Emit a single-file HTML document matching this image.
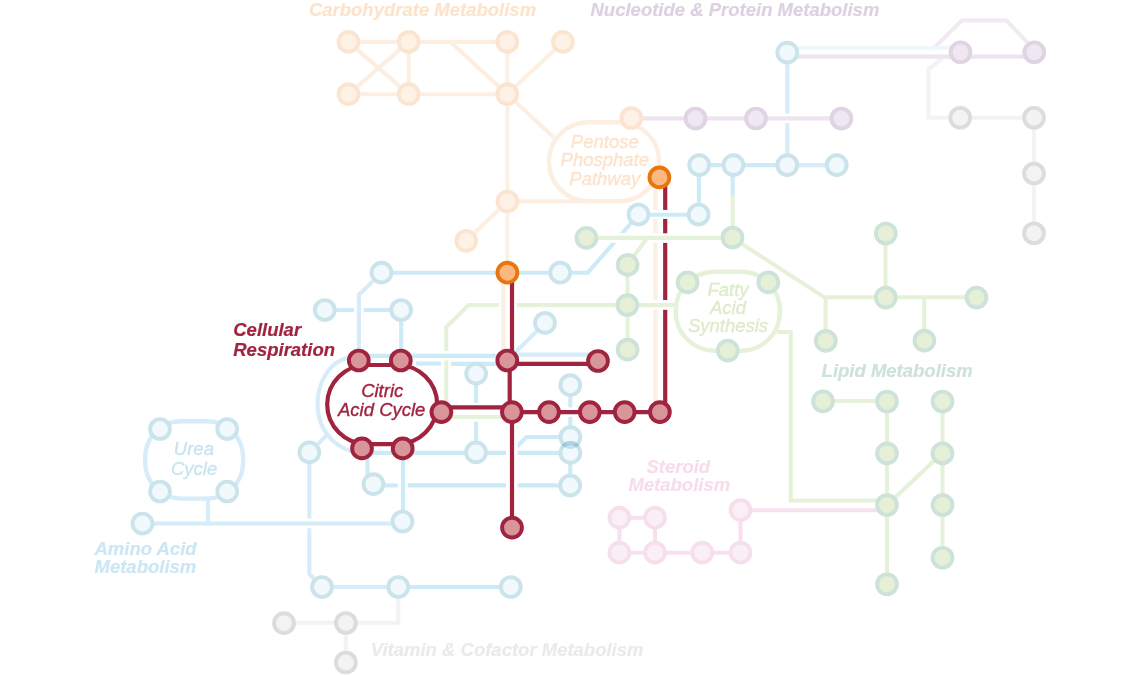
<!DOCTYPE html>
<html lang="en">
<head>
<meta charset="utf-8">
<title>Metabolic Metro Map - Cellular Respiration</title>
<style>
html,body{margin:0;padding:0;background:#fff;}
body{width:1140px;height:675px;overflow:hidden;}
svg{display:block;}
</style>
</head>
<body>
<svg width="1140" height="675" viewBox="0 0 1140 675">
<defs><clipPath id="cn1"><circle cx="570.4" cy="437.1" r="11.85"/></clipPath><clipPath id="cn2"><circle cx="570.4" cy="452.9" r="11.85"/></clipPath><clipPath id="cl2"><rect x="370" y="200" width="280" height="33.1"/><rect x="370" y="242.9" width="280" height="40"/></clipPath><clipPath id="cl1"><rect x="517.8" y="430" width="60" height="30"/></clipPath><filter id="noop" x="0" y="0" width="1140" height="675" filterUnits="userSpaceOnUse" color-interpolation-filters="sRGB"><feOffset dx="0" dy="0"/></filter></defs>
<rect x="0" y="0" width="1140" height="675" fill="#ffffff"/>
<g fill="none" stroke-linejoin="miter" stroke-linecap="butt">
<path d="M943 58 L928.5 69 L928.5 117.75 L1034 117.75 L1034 233.25" stroke="#F3F3F3" stroke-width="4.1" />
<path d="M398.25 587 L398.25 622.75 L282.5 622.75" stroke="#F3F3F3" stroke-width="4.1" />
<path d="M345.75 622.75 L345.75 662.25" stroke="#F3F3F3" stroke-width="4.1" />
<path d="M631.3 118.4 L840.75 118.4" stroke="#ECE4EF" stroke-width="4.1" />
<path d="M786.8 56.6 L1034 56.6" stroke="#ECE4EF" stroke-width="4.1" />
<path d="M933 49 L962 20.4 L1006.5 20.4 L1034.3 50" stroke="#F1EAF3" stroke-width="4.1" />
<path d="M619.4 517.7 L655 517.7 L655 552.7 L619.4 552.7 L619.4 517.7" stroke="#F7E1EE" stroke-width="4.1" stroke-linejoin="round"/>
<path d="M655 552.7 L740.5 552.7 L740.5 510.2 L887 510.2" stroke="#F7E1EE" stroke-width="4.1" />
<path d="M348.5 41.9 L507.3 41.9" stroke="#FCEFE2" stroke-width="4.1" />
<path d="M348.5 94.2 L507.3 94.2" stroke="#FCEFE2" stroke-width="4.1" />
<path d="M348.5 41.9 L408.7 94.2" stroke="#FCEFE2" stroke-width="4.1" />
<path d="M348.5 94.2 L408.7 41.9" stroke="#FCEFE2" stroke-width="4.1" />
<path d="M408.7 41.9 L408.7 94.2" stroke="#FCEFE2" stroke-width="4.1" />
<path d="M450.5 41.9 L507.3 94.2" stroke="#FCEFE2" stroke-width="4.1" />
<path d="M507.3 41.9 L507.3 272" stroke="#FCF0E4" stroke-width="4.1" />
<path d="M562.9 41.9 L507.3 94.2" stroke="#FCF0E4" stroke-width="4.1" />
<path d="M507.3 94.2 L554.5 138" stroke="#FCEFE2" stroke-width="4.1" />
<path d="M507.3 201.2 L592 201.2" stroke="#FCEFE2" stroke-width="4.1" />
<path d="M466.2 240.8 L507.4 201.5" stroke="#FCF0E4" stroke-width="4.1" />
<rect x="548.9" y="122.2" width="110.3" height="79" rx="39.5" ry="39.5" stroke="#FCEFE2" stroke-width="4.4"/>
<path d="M655.4 177 L655.4 209.9" stroke="#FCF0E4" stroke-width="4.4" />
<path d="M655.4 218.9 L655.4 233.3" stroke="#FCF0E4" stroke-width="4.4" />
<path d="M655.4 242.9 L655.4 300" stroke="#FCF0E4" stroke-width="4.4" />
<path d="M655.4 309.8 L655.4 412" stroke="#FCF0E4" stroke-width="4.4" />
<path d="M503.3 272 L503.3 360" stroke="#FCF0E4" stroke-width="4.4" />
<path d="M586.4 237.9 L732.5 237.9" stroke="#E6F1DA" stroke-width="4.1" />
<path d="M732.7 195 L732.7 237.9 L824.3 297.3 L976.25 297.3" stroke="#E6F1DA" stroke-width="4.1" />
<path d="M627.6 264.7 L647.2 237.9" stroke="#E6F1DA" stroke-width="4.1" />
<path d="M627.5 264.7 L627.5 349.5" stroke="#E6F1DA" stroke-width="4.1" />
<path d="M468.6 305.1 L498.8 305.1" stroke="#E6F1DA" stroke-width="4.1" />
<path d="M517 305.1 L676 305.1" stroke="#E6F1DA" stroke-width="4.1" />
<path d="M470 305.1 L468.6 305.1 L446.3 327 L446.3 350.9" stroke="#E6F1DA" stroke-width="4.1" />
<path d="M446.3 360.6 L446.3 417 L512 417" stroke="#E6F1DA" stroke-width="4.1" />
<rect x="675.7" y="271.8" width="104.3" height="78.9" rx="39" ry="39" stroke="#E6F1DA" stroke-width="4.4"/>
<path d="M825.6 297.3 L825.6 341" stroke="#E6F1DA" stroke-width="4.1" />
<path d="M885.5 233.25 L885.5 297" stroke="#E6F1DA" stroke-width="4.1" />
<path d="M924.25 297 L924.25 340.5" stroke="#E6F1DA" stroke-width="4.1" />
<path d="M777 332 L790.75 332 L790.75 500.5 L887 500.5" stroke="#E6F1DA" stroke-width="4.1" />
<path d="M823 401 L887 401" stroke="#E6F1DA" stroke-width="4.1" />
<path d="M887 401 L887 584.25" stroke="#E6F1DA" stroke-width="4.1" />
<path d="M942.5 401 L942.5 557.75" stroke="#E6F1DA" stroke-width="4.1" />
<path d="M887 505 L942.5 453" stroke="#E6F1DA" stroke-width="4.1" />
<path d="M786.8 47.7 L960 47.7" stroke="#EDF7FC" stroke-width="4.1" />
<path d="M787.3 52 L787.3 113.5" stroke="#D6ECF8" stroke-width="4.1" />
<path d="M787.3 123.1 L787.3 164.5" stroke="#D6ECF8" stroke-width="4.1" />
<path d="M698.75 165.1 L787.3 165.1" stroke="#CCEBF6" stroke-width="4.1" />
<path d="M787.3 165.1 L836.25 165.1" stroke="#D6ECF8" stroke-width="4.1" />
<path d="M698.9 164.5 L698.9 214.7" stroke="#CCEBF6" stroke-width="4.1" />
<path d="M732.7 164.5 L732.7 195.2" stroke="#CCEBF6" stroke-width="4.1" />
<path d="M638.5 214.7 L698.75 214.7" stroke="#CCEBF6" stroke-width="4.1" />
<path d="M638.5 214.5 L587.8 272.7 L381.5 272.7" stroke="#CCEBF6" stroke-width="4.1" clip-path="url(#cl2)"/>
<path d="M381.5 272.7 L358.9 294.8 L358.9 360" stroke="#D6ECF8" stroke-width="4.1" />
<path d="M324.75 310 L354.1 310" stroke="#CCEBF6" stroke-width="4.1" />
<path d="M363.8 310 L401 310" stroke="#CCEBF6" stroke-width="4.1" />
<path d="M401.2 310 L401.2 360" stroke="#CCEBF6" stroke-width="4.1" />
<path d="M545 322.9 L507 360.5" stroke="#D6ECF8" stroke-width="4.1" />
<path d="M347 358 C 330 362 317.5 382 317.5 404 C 317.5 430 336 452.9 365 452.9" stroke="#D6ECF8" stroke-width="4.1" />
<path d="M364 452.9 L506 452.9" stroke="#CCEBF6" stroke-width="4.1" />
<path d="M517.8 452.9 L570.5 452.9" stroke="#CCEBF6" stroke-width="4.1" />
<path d="M511 452.5 L526.5 437 L570.5 437" stroke="#CCEBF6" stroke-width="4.1" clip-path="url(#cl1)"/>
<path d="M368 355.9 L497 355.9" stroke="#CCEBF6" stroke-width="4.1" />
<path d="M518 354.6 L598 354.6" stroke="#D6ECF8" stroke-width="4.1" />
<path d="M416 363.6 L441 363.6" stroke="#CCEBF6" stroke-width="4.1" />
<path d="M451 363.9 L497 363.9" stroke="#CCEBF6" stroke-width="4.1" />
<path d="M476.1 373.6 L476.1 403" stroke="#CCEBF6" stroke-width="4.1" />
<path d="M476.1 421.7 L476.1 452.5" stroke="#CCEBF6" stroke-width="4.1" />
<path d="M570.3 385 L570.3 407.4" stroke="#CCEBF6" stroke-width="4.1" />
<path d="M570.3 416.8 L570.3 485.5" stroke="#CCEBF6" stroke-width="4.1" />
<path d="M309.3 452.4 L327 435" stroke="#D6ECF8" stroke-width="4.1" />
<path d="M309.3 452.4 L309.3 518.7" stroke="#D6ECF8" stroke-width="4.1" />
<path d="M309.3 528.3 L309.3 574.8" stroke="#D6ECF8" stroke-width="4.1" />
<path d="M398 587 L510.75 587" stroke="#CCEBF6" stroke-width="4.1" />
<path d="M309.3 574 L322 587 L398.5 587" stroke="#D6ECF8" stroke-width="4.1" />
<path d="M367.5 448 L367.5 478" stroke="#CCEBF6" stroke-width="4.1" />
<path d="M373.4 485.4 L397.7 485.4" stroke="#CCEBF6" stroke-width="4.1" />
<path d="M407.7 485.4 L506 485.4" stroke="#CCEBF6" stroke-width="4.1" />
<path d="M517.8 485.4 L570.1 485.4" stroke="#CCEBF6" stroke-width="4.1" />
<path d="M403 448 L403 521.5" stroke="#CCEBF6" stroke-width="4.1" />
<rect x="145.2" y="421.3" width="97.9" height="77.3" rx="36" ry="36" stroke="#D6ECF8" stroke-width="4.4"/>
<path d="M208 498.6 L208 523.5" stroke="#D6ECF8" stroke-width="4.1" />
<path d="M142 523.5 L402.5 523.5" stroke="#D6ECF8" stroke-width="4.1" />
<path d="M512 272.4 L512 360.5" stroke="#A0233F" stroke-width="4.2" />
<path d="M509.7 360.5 L509.7 412" stroke="#A0233F" stroke-width="4.2" />
<path d="M512 412 L512 527.4" stroke="#A0233F" stroke-width="4.2" />
<path d="M507.3 363.9 L598 363.9" stroke="#A0233F" stroke-width="4.2" />
<path d="M441.4 407.4 L512 407.4" stroke="#A0233F" stroke-width="4.2" />
<path d="M512 412.1 L660 412.1" stroke="#A0233F" stroke-width="4.2" />
<path d="M665.2 177 L665.2 209.9" stroke="#A0233F" stroke-width="4.2" />
<path d="M665.2 218.9 L665.2 233.3" stroke="#A0233F" stroke-width="4.2" />
<path d="M665.2 242.9 L665.2 300" stroke="#A0233F" stroke-width="4.2" />
<path d="M665.2 309.8 L665.2 412" stroke="#A0233F" stroke-width="4.2" />
<rect x="327.2" y="365" width="110" height="79.1" rx="40" ry="40" stroke="#A0233F" stroke-width="4.2"/>
</g>
<g>
<circle cx="960.25" cy="117.75" r="9.9" fill="#F3F3F3" stroke="#DCDCDC" stroke-width="3.9" />
<circle cx="1034" cy="117.75" r="9.9" fill="#F3F3F3" stroke="#DCDCDC" stroke-width="3.9" />
<circle cx="1034" cy="173.5" r="9.9" fill="#F3F3F3" stroke="#DCDCDC" stroke-width="3.9" />
<circle cx="1034" cy="233.25" r="9.9" fill="#F3F3F3" stroke="#DCDCDC" stroke-width="3.9" />
<circle cx="284" cy="623.2" r="9.9" fill="#F3F3F3" stroke="#DCDCDC" stroke-width="3.9" />
<circle cx="345.9" cy="623" r="9.9" fill="#F3F3F3" stroke="#DCDCDC" stroke-width="3.9" />
<circle cx="345.9" cy="662.5" r="9.9" fill="#F3F3F3" stroke="#DCDCDC" stroke-width="3.9" />
<circle cx="695.5" cy="118.5" r="9.9" fill="#EFE8F0" stroke="#E0D3E3" stroke-width="3.9" />
<circle cx="756" cy="118.5" r="9.9" fill="#EFE8F0" stroke="#E0D3E3" stroke-width="3.9" />
<circle cx="841.4" cy="118.5" r="9.9" fill="#EFE8F0" stroke="#E0D3E3" stroke-width="3.9" />
<circle cx="960.5" cy="52.3" r="9.9" fill="#EFE8F0" stroke="#E0D3E3" stroke-width="3.9" />
<circle cx="1034.3" cy="52.3" r="9.9" fill="#EFE8F0" stroke="#E0D3E3" stroke-width="3.9" />
<circle cx="619.4" cy="517.7" r="9.9" fill="#FBEFF6" stroke="#F6DFEC" stroke-width="3.9" />
<circle cx="655" cy="517.7" r="9.9" fill="#FBEFF6" stroke="#F6DFEC" stroke-width="3.9" />
<circle cx="619.4" cy="552.7" r="9.9" fill="#FBEFF6" stroke="#F6DFEC" stroke-width="3.9" />
<circle cx="655" cy="552.7" r="9.9" fill="#FBEFF6" stroke="#F6DFEC" stroke-width="3.9" />
<circle cx="702.2" cy="552.7" r="9.9" fill="#FBEFF6" stroke="#F6DFEC" stroke-width="3.9" />
<circle cx="740.5" cy="552.7" r="9.9" fill="#FBEFF6" stroke="#F6DFEC" stroke-width="3.9" />
<circle cx="740.5" cy="510.2" r="9.9" fill="#FBEFF6" stroke="#F6DFEC" stroke-width="3.9" />
<circle cx="348.5" cy="41.9" r="9.9" fill="#FEF1E6" stroke="#FBE5D0" stroke-width="3.9" />
<circle cx="408.7" cy="41.9" r="9.9" fill="#FEF1E6" stroke="#FBE5D0" stroke-width="3.9" />
<circle cx="507.3" cy="41.9" r="9.9" fill="#FEF1E6" stroke="#FBE5D0" stroke-width="3.9" />
<circle cx="562.9" cy="41.9" r="9.9" fill="#FEF1E6" stroke="#FBE5D0" stroke-width="3.9" />
<circle cx="348.5" cy="94.2" r="9.9" fill="#FEF1E6" stroke="#FBE5D0" stroke-width="3.9" />
<circle cx="408.7" cy="94.2" r="9.9" fill="#FEF1E6" stroke="#FBE5D0" stroke-width="3.9" />
<circle cx="507.3" cy="94.2" r="9.9" fill="#FEF1E6" stroke="#FBE5D0" stroke-width="3.9" />
<circle cx="631.3" cy="118" r="9.9" fill="#FEF1E6" stroke="#FBE5D0" stroke-width="3.9" />
<circle cx="507.4" cy="201.5" r="9.9" fill="#FEF1E6" stroke="#FBE5D0" stroke-width="3.9" />
<circle cx="466.2" cy="240.8" r="9.9" fill="#FEF1E6" stroke="#FBE5D0" stroke-width="3.9" />
<circle cx="586.4" cy="237.9" r="9.9" fill="#E6F0D6" stroke="#CDE2D9" stroke-width="3.9" />
<circle cx="732.5" cy="237.5" r="9.9" fill="#E6F0D6" stroke="#CDE2D9" stroke-width="3.9" />
<circle cx="627.6" cy="264.9" r="9.9" fill="#E6F0D6" stroke="#CDE2D9" stroke-width="3.9" />
<circle cx="627.4" cy="305.1" r="9.9" fill="#E6F0D6" stroke="#CDE2D9" stroke-width="3.9" />
<circle cx="627.6" cy="349.7" r="9.9" fill="#E6F0D6" stroke="#CDE2D9" stroke-width="3.9" />
<circle cx="687.6" cy="282.4" r="9.9" fill="#E6F0D6" stroke="#CDE2D9" stroke-width="3.9" />
<circle cx="768.3" cy="282.4" r="9.9" fill="#E6F0D6" stroke="#CDE2D9" stroke-width="3.9" />
<circle cx="727.8" cy="350.6" r="9.9" fill="#E6F0D6" stroke="#CDE2D9" stroke-width="3.9" />
<circle cx="825.8" cy="340.9" r="9.9" fill="#E6F0D6" stroke="#CDE2D9" stroke-width="3.9" />
<circle cx="885.8" cy="233.5" r="9.9" fill="#E6F0D6" stroke="#CDE2D9" stroke-width="3.9" />
<circle cx="885.8" cy="297.6" r="9.9" fill="#E6F0D6" stroke="#CDE2D9" stroke-width="3.9" />
<circle cx="976.5" cy="297.6" r="9.9" fill="#E6F0D6" stroke="#CDE2D9" stroke-width="3.9" />
<circle cx="924.4" cy="340.7" r="9.9" fill="#E6F0D6" stroke="#CDE2D9" stroke-width="3.9" />
<circle cx="823" cy="401.3" r="9.9" fill="#E6F0D6" stroke="#CDE2D9" stroke-width="3.9" />
<circle cx="887" cy="401.5" r="9.9" fill="#E6F0D6" stroke="#CDE2D9" stroke-width="3.9" />
<circle cx="942.5" cy="401.5" r="9.9" fill="#E6F0D6" stroke="#CDE2D9" stroke-width="3.9" />
<circle cx="887" cy="453.4" r="9.9" fill="#E6F0D6" stroke="#CDE2D9" stroke-width="3.9" />
<circle cx="942.5" cy="453.4" r="9.9" fill="#E6F0D6" stroke="#CDE2D9" stroke-width="3.9" />
<circle cx="887" cy="505" r="9.9" fill="#E6F0D6" stroke="#CDE2D9" stroke-width="3.9" />
<circle cx="942.5" cy="505" r="9.9" fill="#E6F0D6" stroke="#CDE2D9" stroke-width="3.9" />
<circle cx="942.5" cy="557.75" r="9.9" fill="#E6F0D6" stroke="#CDE2D9" stroke-width="3.9" />
<circle cx="887" cy="584.25" r="9.9" fill="#E6F0D6" stroke="#CDE2D9" stroke-width="3.9" />
<circle cx="787.3" cy="52.6" r="9.9" fill="#F1F9FD" stroke="#CBE4EC" stroke-width="3.9" />
<circle cx="699.2" cy="165.1" r="9.9" fill="#F1F9FD" stroke="#CBE4EC" stroke-width="3.9" />
<circle cx="733.4" cy="165.1" r="9.9" fill="#F1F9FD" stroke="#CBE4EC" stroke-width="3.9" />
<circle cx="787.3" cy="165.1" r="9.9" fill="#F1F9FD" stroke="#CBE4EC" stroke-width="3.9" />
<circle cx="836.7" cy="165.1" r="9.9" fill="#F1F9FD" stroke="#CBE4EC" stroke-width="3.9" />
<circle cx="638.5" cy="214.5" r="9.9" fill="#F1F9FD" stroke="#CBE4EC" stroke-width="3.9" />
<circle cx="698.6" cy="214.5" r="9.9" fill="#F1F9FD" stroke="#CBE4EC" stroke-width="3.9" />
<circle cx="381.5" cy="272.7" r="9.9" fill="#F1F9FD" stroke="#CBE4EC" stroke-width="3.9" />
<circle cx="560.2" cy="272.7" r="9.9" fill="#F1F9FD" stroke="#CBE4EC" stroke-width="3.9" />
<circle cx="324.75" cy="310" r="9.9" fill="#F1F9FD" stroke="#CBE4EC" stroke-width="3.9" />
<circle cx="401.1" cy="310" r="9.9" fill="#F1F9FD" stroke="#CBE4EC" stroke-width="3.9" />
<circle cx="545" cy="322.9" r="9.9" fill="#F1F9FD" stroke="#CBE4EC" stroke-width="3.9" />
<circle cx="476.1" cy="373.6" r="9.9" fill="#F1F9FD" stroke="#CBE4EC" stroke-width="3.9" />
<circle cx="570.3" cy="385.2" r="9.9" fill="#F1F9FD" stroke="#CBE4EC" stroke-width="3.9" />
<circle cx="476" cy="452.4" r="9.9" fill="#F1F9FD" stroke="#CBE4EC" stroke-width="3.9" />
<circle cx="309.3" cy="452.4" r="9.9" fill="#F1F9FD" stroke="#CBE4EC" stroke-width="3.9" />
<circle cx="373.4" cy="484.2" r="9.9" fill="#F1F9FD" stroke="#CBE4EC" stroke-width="3.9" />
<circle cx="570.2" cy="485.5" r="9.9" fill="#F1F9FD" stroke="#CBE4EC" stroke-width="3.9" />
<circle cx="402.5" cy="521.5" r="9.9" fill="#F1F9FD" stroke="#CBE4EC" stroke-width="3.9" />
<circle cx="142.5" cy="523.5" r="9.9" fill="#F1F9FD" stroke="#CBE4EC" stroke-width="3.9" />
<circle cx="322" cy="587" r="9.9" fill="#F1F9FD" stroke="#CBE4EC" stroke-width="3.9" />
<circle cx="398.25" cy="587" r="9.9" fill="#F1F9FD" stroke="#CBE4EC" stroke-width="3.9" />
<circle cx="510.75" cy="587" r="9.9" fill="#F1F9FD" stroke="#CBE4EC" stroke-width="3.9" />
<circle cx="160" cy="429" r="9.9" fill="#F1F9FD" stroke="#CBE4EC" stroke-width="3.9" />
<circle cx="227.2" cy="429" r="9.9" fill="#F1F9FD" stroke="#CBE4EC" stroke-width="3.9" />
<circle cx="160" cy="491.5" r="9.9" fill="#F1F9FD" stroke="#CBE4EC" stroke-width="3.9" />
<circle cx="227.2" cy="491.5" r="9.9" fill="#F1F9FD" stroke="#CBE4EC" stroke-width="3.9" />
<circle cx="570.4" cy="437.1" r="9.9" fill="#F1F9FD" stroke="#CBE4EC" stroke-width="3.9" />
<circle cx="570.4" cy="452.9" r="9.9" fill="#F1F9FD" stroke="#CBE4EC" stroke-width="3.9" />
<circle cx="570.4" cy="437.1" r="9.9" fill="none" stroke="#7DB9D0" stroke-opacity="0.38" stroke-width="3.9" clip-path="url(#cn2)"/>
<circle cx="570.4" cy="452.9" r="9.9" fill="none" stroke="#7DB9D0" stroke-opacity="0.38" stroke-width="3.9" clip-path="url(#cn1)"/>
<circle cx="358.8" cy="360.5" r="9.9" fill="#D8969B" stroke="#A0233F" stroke-width="3.9" />
<circle cx="400.8" cy="360.5" r="9.9" fill="#D8969B" stroke="#A0233F" stroke-width="3.9" />
<circle cx="441.4" cy="412.1" r="9.9" fill="#D8969B" stroke="#A0233F" stroke-width="3.9" />
<circle cx="362" cy="448.4" r="9.9" fill="#D8969B" stroke="#A0233F" stroke-width="3.9" />
<circle cx="402.7" cy="448.4" r="9.9" fill="#D8969B" stroke="#A0233F" stroke-width="3.9" />
<circle cx="507.3" cy="360.5" r="9.9" fill="#D8969B" stroke="#A0233F" stroke-width="3.9" />
<circle cx="598" cy="361" r="9.9" fill="#D8969B" stroke="#A0233F" stroke-width="3.9" />
<circle cx="511.9" cy="412.1" r="9.9" fill="#D8969B" stroke="#A0233F" stroke-width="3.9" />
<circle cx="549" cy="412.1" r="9.9" fill="#D8969B" stroke="#A0233F" stroke-width="3.9" />
<circle cx="589.8" cy="412.1" r="9.9" fill="#D8969B" stroke="#A0233F" stroke-width="3.9" />
<circle cx="624.7" cy="412.1" r="9.9" fill="#D8969B" stroke="#A0233F" stroke-width="3.9" />
<circle cx="659.9" cy="412.1" r="9.9" fill="#D8969B" stroke="#A0233F" stroke-width="3.9" />
<circle cx="512" cy="527.6" r="9.9" fill="#D8969B" stroke="#A0233F" stroke-width="3.9" />
<circle cx="507.4" cy="272.7" r="9.9" fill="#FBB881" stroke="#E8750D" stroke-width="3.9" />
<circle cx="659.4" cy="177.4" r="9.9" fill="#FBB881" stroke="#E8750D" stroke-width="3.9" />
</g>
<g font-family="'Liberation Sans', sans-serif" font-style="italic" filter="url(#noop)">
<text x="308.9" y="15.6" fill="#FCE3CB" stroke="#FCE3CB" stroke-width="0.2" font-size="18.5" text-anchor="start" font-weight="bold">Carbohydrate Metabolism</text>
<text x="590.5" y="15.5" fill="#DDD0E1" stroke="#DDD0E1" stroke-width="0.2" font-size="18.5" text-anchor="start" font-weight="bold">Nucleotide &amp; Protein Metabolism</text>
<text x="821.6" y="377" fill="#CDE2D9" stroke="#CDE2D9" stroke-width="0.2" font-size="18.5" text-anchor="start" font-weight="bold">Lipid Metabolism</text>
<text x="94.5" y="554.6" fill="#CBE7F3" stroke="#CBE7F3" stroke-width="0.2" font-size="18.5" text-anchor="start" font-weight="bold">Amino Acid</text>
<text x="94.5" y="572.7" fill="#CBE7F3" stroke="#CBE7F3" stroke-width="0.2" font-size="18.5" text-anchor="start" font-weight="bold">Metabolism</text>
<text x="678.3" y="473.4" fill="#F7DDEB" stroke="#F7DDEB" stroke-width="0.2" font-size="18.5" text-anchor="middle" font-weight="bold">Steroid</text>
<text x="679.3" y="491.4" fill="#F7DDEB" stroke="#F7DDEB" stroke-width="0.2" font-size="18.5" text-anchor="middle" font-weight="bold">Metabolism</text>
<text x="370.75" y="655.7" fill="#EAEAEA" stroke="#EAEAEA" stroke-width="0.2" font-size="18.5" text-anchor="start" font-weight="bold">Vitamin &amp; Cofactor Metabolism</text>
<text x="233.25" y="336.25" fill="#A0233F" stroke="#A0233F" stroke-width="0.2" font-size="18.5" text-anchor="start" font-weight="bold">Cellular</text>
<text x="233.25" y="356.25" fill="#A0233F" stroke="#A0233F" stroke-width="0.2" font-size="18.5" text-anchor="start" font-weight="bold">Respiration</text>
<text x="382.2" y="396.9" fill="#A0233F" stroke="#A0233F" stroke-width="0.35" font-size="18.5" text-anchor="middle">Citric</text>
<text x="381.7" y="416" fill="#A0233F" stroke="#A0233F" stroke-width="0.35" font-size="18.5" text-anchor="middle">Acid Cycle</text>
<text x="604.8" y="147.5" fill="#FCE3CB" stroke="#FCE3CB" stroke-width="0.35" font-size="18.5" text-anchor="middle">Pentose</text>
<text x="604.8" y="166.1" fill="#FCE3CB" stroke="#FCE3CB" stroke-width="0.35" font-size="18.5" text-anchor="middle">Phosphate</text>
<text x="604.8" y="185" fill="#FCE3CB" stroke="#FCE3CB" stroke-width="0.35" font-size="18.5" text-anchor="middle">Pathway</text>
<text x="193.9" y="455" fill="#C8E4EF" stroke="#C8E4EF" stroke-width="0.35" font-size="18.5" text-anchor="middle">Urea</text>
<text x="194.1" y="474.5" fill="#C8E4EF" stroke="#C8E4EF" stroke-width="0.35" font-size="18.5" text-anchor="middle">Cycle</text>
<text x="728" y="295.5" fill="#DDEBCB" stroke="#DDEBCB" stroke-width="0.35" font-size="18.5" text-anchor="middle">Fatty</text>
<text x="728" y="313.7" fill="#DDEBCB" stroke="#DDEBCB" stroke-width="0.35" font-size="18.5" text-anchor="middle">Acid</text>
<text x="728" y="332.1" fill="#DDEBCB" stroke="#DDEBCB" stroke-width="0.35" font-size="18.5" text-anchor="middle">Synthesis</text>
</g>
</svg>
</body>
</html>
